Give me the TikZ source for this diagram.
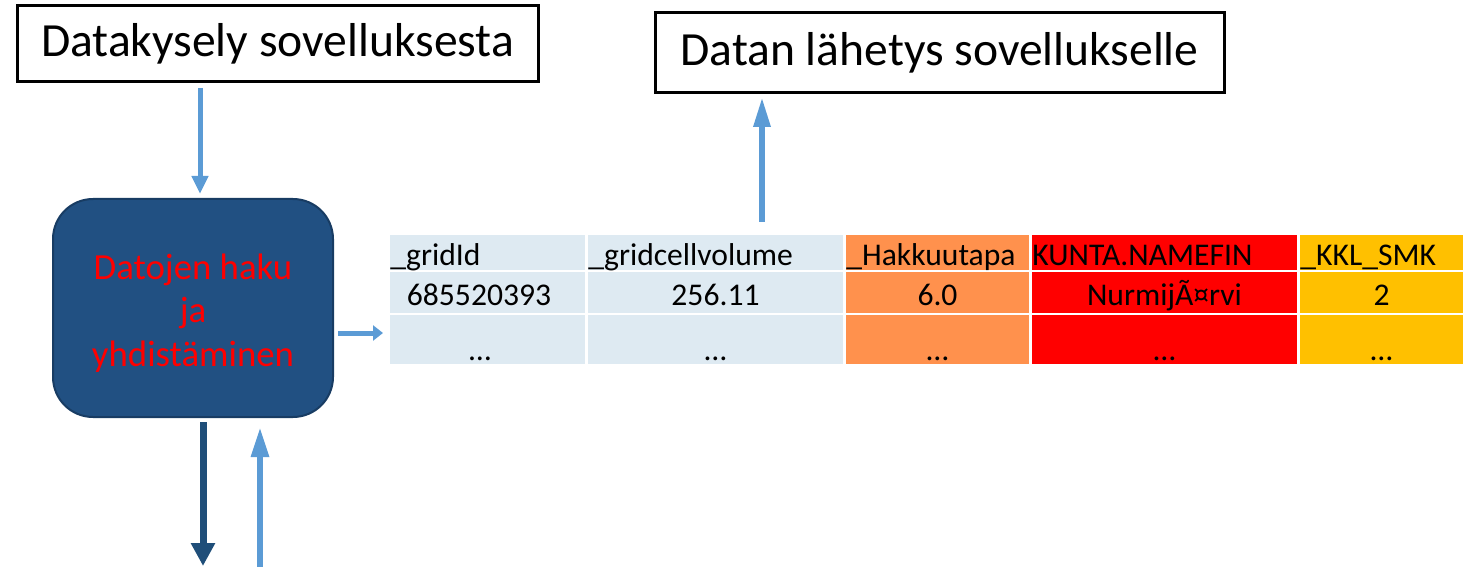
\documentclass[tikz,border=0pt]{standalone}
\usepackage{fontspec}
\setmainfont{Carlito}
\usetikzlibrary{arrows.meta}
\definecolor{lblue}{HTML}{5B9BD5}
\definecolor{dblue}{HTML}{1F4E79}
\definecolor{procfill}{HTML}{215082}
\definecolor{procedge}{HTML}{183C63}
\definecolor{cgrey}{HTML}{DEEAF2}
\definecolor{corange}{HTML}{FF914D}
\definecolor{cred}{HTML}{FF0000}
\definecolor{cyellow}{HTML}{FFC000}
\begin{document}
\begin{tikzpicture}[x=0.5pt,y=-0.5pt,
  titlebox/.style={draw=black, line width=1.5pt, inner sep=0pt, font=\fontsize{23.8}{28}\selectfont},
  cell/.style={inner sep=0pt, draw=none},
  htxt/.style={inner sep=0pt, anchor=base west, font=\fontsize{15.8}{18}\selectfont},
  vtxt/.style={inner sep=0pt, anchor=base, font=\fontsize{15.8}{18}\selectfont},
  lbarrow/.style={draw=lblue, line width=#1},
  dbarrow/.style={draw=dblue, line width=#1}]
\useasboundingbox (0,0) rectangle (1463,567);

% title boxes
\node[titlebox, minimum width=260.5pt, minimum height=38pt] (q) at (277.5,44) {Datakysely sovelluksesta};
\node[titlebox, minimum width=284.5pt, minimum height=40pt] (s) at (939.5,53) {Datan lähetys sovellukselle};

% process box
\node[draw=procedge, fill=procfill, rounded corners=20pt, line width=1pt,
      minimum width=140pt, minimum height=109pt] (p) at (193,308) {};
\node[text=red, align=center, inner sep=0pt,
      font=\fontsize{18.4}{21.9}\selectfont] (pt) at (193,313) {Datojen haku\\ja\\yhdistäminen};

% table cells
\foreach \c/\cx/\w/\col in {1/487.5/97.5/cgrey, 2/715.5/127.5/cgrey, 3/937.5/91.5/corange, 4/1164.5/132.5/cred, 5/1381.5/81.5/cyellow}{
  \node[cell, fill=\col, minimum width=\w pt, minimum height=17.5pt] (h\c) at (\cx,252.5) {};
  \node[cell, fill=\col, minimum width=\w pt, minimum height=20.5pt] (r\c) at (\cx,292.5) {};
  \node[cell, fill=\col, minimum width=\w pt, minimum height=24.5pt] (e\c) at (\cx,339.5) {};
}

% header texts
\node[htxt] (th1) at (390,265) {\_gridId};
\node[htxt] (th2) at (588,265) {\_gridcellvolume};
\node[htxt] (th3) at (846,265) {\_Hakkuutapa};
\node[htxt] (th4) at (1032,265) {KUNTA.NAMEFIN};
\node[htxt] (th5) at (1300,265) {\_KKL\_SMK};

% values
\node[vtxt] (tv1) at (479,305) {685520393};
\node[vtxt] (tv2) at (715.5,305) {256.11};
\node[vtxt] (tv3) at (937.5,305) {6.0};
\node[vtxt] (tv4) at (1164.5,305) {NurmijÃ¤rvi};
\node[vtxt] (tv5) at (1381.5,305) {2};

\node[vtxt] (td1) at (480,360) {…};
\node[vtxt] (td2) at (715.5,360) {…};
\node[vtxt] (td3) at (937.5,360) {…};
\node[vtxt] (td4) at (1164.5,360) {…};
\node[vtxt] (td5) at (1381.5,360) {…};

% arrow end points
\coordinate (a1s) at (200,88);
\coordinate (a1e) at (200,194);
\coordinate (a2s) at (762,222);
\coordinate (a2e) at (762,97);
\coordinate (a3s) at (338,333);
\coordinate (a3e) at (383,333);
\coordinate (a4s) at (203,422);
\coordinate (a4e) at (203,566);
\coordinate (a5s) at (260,567);
\coordinate (a5e) at (260,427);

\draw[lbarrow=2.5pt, -{Triangle[length=9pt,width=8pt]}, lblue] (a1s) -- (a1e);
\draw[lbarrow=3pt, -{Triangle[length=15pt,width=8pt]}, lblue] (a2s) -- (a2e);
\draw[lbarrow=2.5pt, -{Triangle[length=5pt,width=7.5pt]}, lblue] (a3s) -- (a3e);
\draw[dbarrow=3.5pt, -{Triangle[length=11.5pt,width=11.5pt]}, dblue] (a4s) -- (a4e);
\draw[lbarrow=3pt, -{Triangle[length=15pt,width=8.5pt]}, lblue] (a5s) -- (a5e);
\end{tikzpicture}
\end{document}
